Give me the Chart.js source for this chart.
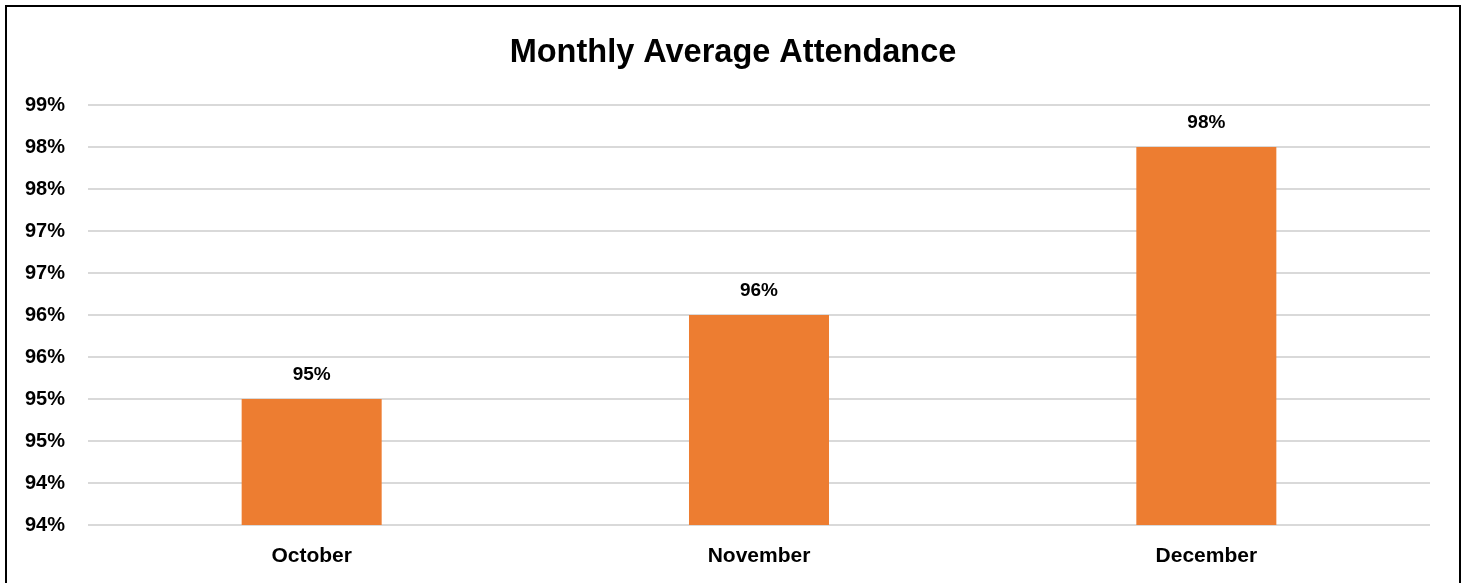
<!DOCTYPE html>
<html>
<head>
<meta charset="utf-8">
<script src="https://cdn.jsdelivr.net/npm/chart.js@4"></script>
<style>
  html, body { margin: 0; padding: 0; background: #fff; }
  #wrap { position: relative; width: 1466px; height: 583px; overflow: hidden; }
  #frame { position: absolute; left: 5px; top: 5px; width: 1456px; height: 600px; border: 2px solid #000; box-sizing: border-box; pointer-events: none; }
  canvas { position: absolute; left: 0; top: 0; }
</style>
</head>
<body>
<div id="wrap">
  <canvas id="chart" width="1466" height="583"></canvas>
  <div id="frame"></div>
</div>
<script>
// chart values
const months = ['October', 'November', 'December'];
const attendance = [95.1, 96.1, 98.1];   // percent
const axisMin = 93.6;
const axisMax = 98.6;
const axisStep = 0.5;
const chartTitle = 'Monthly Average Attendance';

const FONT = "'Liberation Sans', Arial, sans-serif";

// title centred on the whole canvas + labels on top of each bar
const extras = {
  id: 'extras',
  afterDraw(chart) {
    const ctx = chart.ctx;
    ctx.save();
    ctx.fillStyle = '#000';
    ctx.textAlign = 'center';
    ctx.textBaseline = 'alphabetic';
    ctx.font = 'bold 32.5px ' + FONT;
    ctx.fillText(chartTitle, chart.width / 2, 62);

    ctx.textBaseline = 'middle';
    ctx.font = 'bold 19px ' + FONT;
    chart.getDatasetMeta(0).data.forEach((bar, i) => {
      ctx.fillText(Math.round(attendance[i]) + '%', bar.x, bar.y - 24);
    });
    ctx.restore();
  }
};

new Chart(document.getElementById('chart').getContext('2d'), {
  type: 'bar',
  data: {
    labels: months,
    datasets: [{
      label: 'Attendance',
      data: attendance,
      backgroundColor: '#ED7D31',
      borderWidth: 0,
      barPercentage: 0.313,
      categoryPercentage: 1
    }]
  },
  options: {
    responsive: false,
    animation: false,
    layout: { padding: { left: 0, right: 36, top: 105, bottom: 0 } },
    plugins: {
      legend: { display: false },
      tooltip: { enabled: false },
      title: { display: false }
    },
    scales: {
      x: {
        grid: { display: false },
        border: { display: false },
        ticks: { color: '#000', font: { family: FONT, size: 21, weight: 'bold' }, padding: 11 },
        afterFit(scale) { scale.height = 58; }
      },
      y: {
        min: axisMin,
        max: axisMax,
        grid: { color: '#d9d9d9', lineWidth: 2, drawTicks: false },
        border: { display: false },
        ticks: {
          stepSize: axisStep,
          color: '#000',
          padding: 23,
          font: { family: FONT, size: 20, weight: 'bold' },
          callback: v => Math.round(v) + '%'
        },
        afterFit(scale) { scale.width = 88; }
      }
    }
  },
  plugins: [extras]
});
</script>
</body>
</html>
